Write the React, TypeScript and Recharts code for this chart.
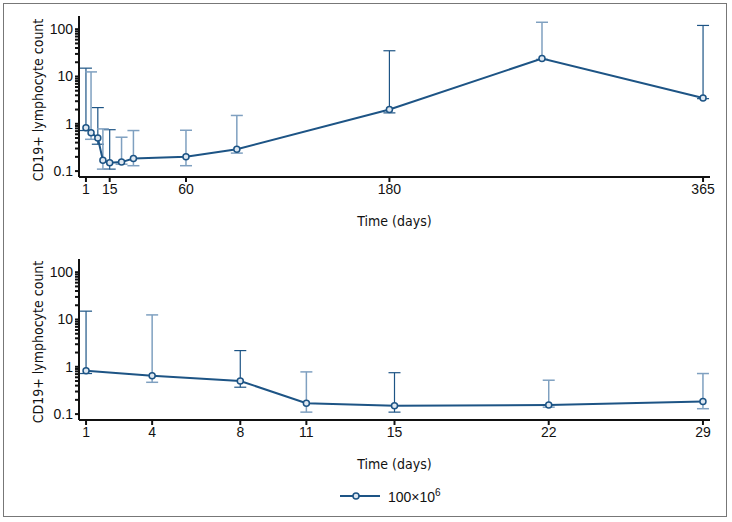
import React from "react";
import { LineChart, Line, XAxis, YAxis, ErrorBar } from "recharts";

const daysAll = [1, 4, 8, 11, 15, 22, 29, 60, 90, 180, 270, 365];
const means = [0.82, 0.65, 0.5, 0.17, 0.15, 0.155, 0.185, 0.2, 0.29, 2.0, 24, 3.5];
const upper = [15, 12.5, 2.2, 0.78, 0.75, 0.52, 0.72, 0.73, 1.5, 35, 140, 120];
const lower = [0.72, 0.47, 0.37, 0.11, 0.11, 0.14, 0.13, 0.13, 0.24, 1.7, 23, 3.4];
// alternate dark/light bars as in the figure
const darkBar = [true, false, true, false, true, false, false, false, false, true, false, true];
const firstMonthCount = 7;

const topTicks = [1, 15, 60, 180, 365];
const bottomTicks = [1, 4, 8, 11, 15, 22, 29];
const yTicks = [
  0.1, 0.2, 0.3, 0.4, 0.5, 0.6, 0.7, 0.8, 0.9,
  1, 2, 3, 4, 5, 6, 7, 8, 9,
  10, 20, 30, 40, 50, 60, 70, 80, 90, 100,
];

const LINE = "#1d5485";
const LIGHT = "#7fa0c0";
const FONT = "'DejaVu Sans Condensed', 'Liberation Sans Narrow', sans-serif";

const rows = daysAll.map((d, i) => {
  const err: [number, number] = [means[i] - lower[i], upper[i] - means[i]];
  return {
    day: d,
    value: means[i],
    errDark: darkBar[i] ? err : undefined,
    errLight: darkBar[i] ? undefined : err,
  };
});

const tickStyle = { fontSize: 14, fill: "#111", fontFamily: "'Liberation Sans', sans-serif" };

function Panel({ data, ticks, domain }: { data: typeof rows; ticks: number[]; domain: [number, number] }) {
  return (
    <LineChart width={732} height={230} data={data} margin={{ top: 16, right: 22, bottom: 3, left: 29 }}>
      <XAxis
        dataKey="day"
        type="number"
        domain={domain}
        ticks={ticks}
        allowDataOverflow
        tick={tickStyle}
        tickSize={5}
        stroke="#111"
        strokeWidth={2}
        height={50}
        label={{ value: "Time (days)", position: "insideBottom", offset: 1, style: { fontSize: 14, fill: "#111", fontFamily: FONT } }}
      />
      <YAxis
        scale="log"
        type="number"
        domain={[0.075, 190]}
        allowDataOverflow
        ticks={yTicks}
        interval={0}
        tickFormatter={(v: number) => ([0.1, 1, 10, 100].includes(v) ? String(v) : "")}
        tick={tickStyle}
        tickSize={4}
        stroke="#111"
        strokeWidth={2}
        width={50}
      />
      <Line
        dataKey="value"
        stroke={LINE}
        strokeWidth={2}
        dot={{ r: 3, stroke: LINE, strokeWidth: 1.5, fill: "#dfe8f1" }}
        isAnimationActive={false}
      >
        <ErrorBar dataKey="errDark" stroke={LINE} strokeWidth={1.2} width={6} direction="y" />
        <ErrorBar dataKey="errLight" stroke={LIGHT} strokeWidth={1.5} width={6} direction="y" />
      </Line>
    </LineChart>
  );
}

function YTitle({ top }: { top: number }) {
  return (
    <div
      style={{
        position: "absolute",
        left: 38,
        top,
        transform: "translate(-50%, -50%) rotate(-90deg)",
        whiteSpace: "nowrap",
        fontFamily: FONT,
        fontSize: 14,
        color: "#111",
      }}
    >
      CD19+ lymphocyte count
    </div>
  );
}

export default function App() {
  return (
    <div style={{ position: "absolute", left: 0, top: 0, width: 732, height: 522, background: "#fff" }}>
      <div style={{ position: "absolute", left: 3, top: 3, width: 724, height: 514, border: "1.5px solid #777", boxSizing: "border-box" }} />
      <div style={{ position: "absolute", left: 0, top: 0 }}>
        <Panel data={rows} ticks={topTicks} domain={[-3.1, 369.1]} />
      </div>
      <div style={{ position: "absolute", left: 0, top: 243 }}>
        <Panel data={rows.slice(0, firstMonthCount)} ticks={bottomTicks} domain={[0.68, 29.32]} />
      </div>
      <YTitle top={100} />
      <YTitle top={342} />
      <div
        style={{
          position: "absolute",
          left: 338,
          top: 486,
          display: "flex",
          alignItems: "center",
          fontFamily: "'Liberation Sans', sans-serif",
          fontSize: 14,
          color: "#111",
        }}
      >
        <svg width={44} height={20}>
          <line x1={2} y1={10} x2={42} y2={10} stroke={LINE} strokeWidth={2} />
          <circle cx={18} cy={10} r={3} stroke={LINE} strokeWidth={1.5} fill="#dfe8f1" />
        </svg>
        <span style={{ marginLeft: 6 }}>
          100×10<sup style={{ fontSize: 10 }}>6</sup>
        </span>
      </div>
    </div>
  );
}
